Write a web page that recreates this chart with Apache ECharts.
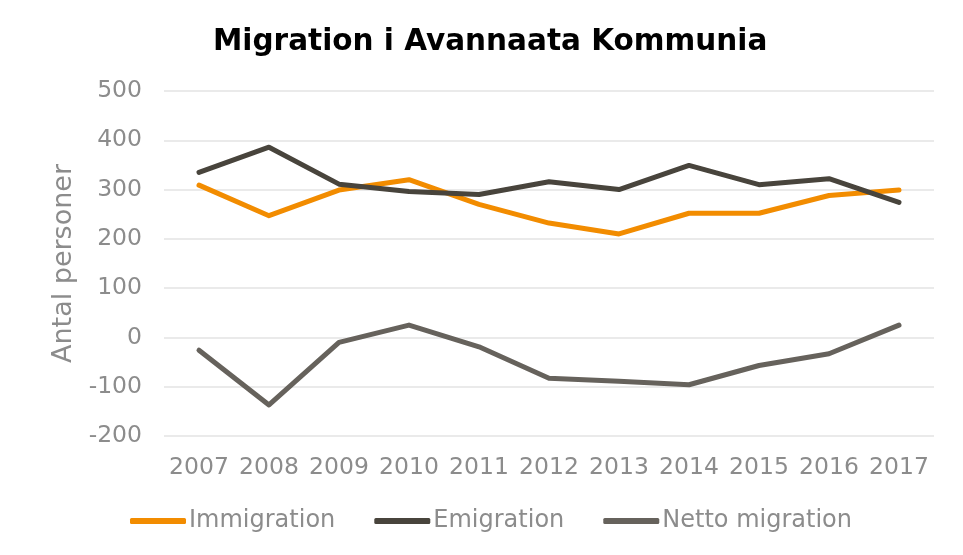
<!DOCTYPE html>
<html>
<head>
<meta charset="utf-8">
<script src="https://cdn.jsdelivr.net/npm/echarts@6/dist/echarts.min.js"></script>
<style>
html, body { margin: 0; padding: 0; background: #fff; }
#chart { width: 963px; height: 555px; }
</style>
</head>
<body>
<div id="chart"></div>
<script>
// data
var years = ['2007', '2008', '2009', '2010', '2011', '2012', '2013', '2014', '2015', '2016', '2017'];
var immigration = [309, 247, 299, 320, 270, 232, 210, 252, 252, 288, 299];
var emigration = [335, 386, 311, 296, 290, 316, 300, 349, 310, 322, 274];
var netto = [-26, -137, -10, 25, -19, -83, -89, -96, -57, -33, 25];

var gray = '#8c8c8c';
var font = 'DejaVu Sans';

function lineSeries(name, data, color) {
    return {
        name: name,
        type: 'line',
        data: data,
        symbol: 'none',
        lineStyle: { width: 5, color: color, cap: 'round', join: 'round' },
        itemStyle: { color: color }
    };
}

var myChart = echarts.init(document.getElementById('chart'));
myChart.setOption({
    animation: false,
    textStyle: { fontFamily: font },
    title: {
        text: 'Migration i Avannaata Kommunia',
        left: 208,
        top: 22,
        textStyle: { fontFamily: font, fontWeight: 'bold', fontSize: 29.5, color: '#000' }
    },
    grid: { left: 164, right: 29, top: 91, bottom: 119, containLabel: false },
    legend: {
        bottom: 17,
        left: 125,
        itemWidth: 56,
        itemHeight: 6,
        itemGap: 39,
        icon: 'roundRect',
        textStyle: { fontFamily: font, fontSize: 24, color: gray, padding: [0, 0, 0, -2] },
        data: ['Immigration', 'Emigration', 'Netto migration']
    },
    xAxis: {
        type: 'category',
        data: years,
        axisLine: { show: false },
        axisTick: { show: false },
        axisLabel: { fontFamily: font, fontSize: 23.5, color: gray, margin: 20, interval: 0 }
    },
    yAxis: {
        type: 'value',
        min: -200,
        max: 500,
        interval: 100,
        name: 'Antal personer',
        nameLocation: 'middle',
        nameGap: 87,
        nameTextStyle: { fontFamily: font, fontSize: 27, color: gray },
        axisLine: { show: false },
        axisTick: { show: false },
        axisLabel: { fontFamily: font, fontSize: 23.5, color: gray, margin: 22 },
        splitLine: { lineStyle: { color: '#e3e3e3', width: 1.5 } }
    },
    series: [
        lineSeries('Immigration', immigration, '#f28c00'),
        lineSeries('Emigration', emigration, '#48443c'),
        lineSeries('Netto migration', netto, '#66625c')
    ]
});
</script>
</body>
</html>
